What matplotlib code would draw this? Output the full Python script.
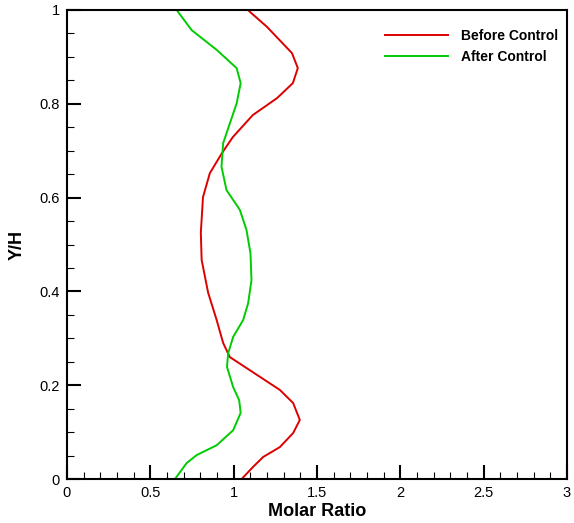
import numpy as np
import matplotlib.pyplot as plt
from matplotlib.ticker import MultipleLocator

plt.rcParams['font.family'] = ['Liberation Sans', 'DejaVu Sans']

# Before Control (red)
before_x = [1.048, 1.117, 1.177, 1.277, 1.357, 1.397, 1.357, 1.277, 1.097, 0.977, 0.937,
            0.898, 0.847, 0.808, 0.803, 0.816, 0.857, 0.93, 0.995, 1.115, 1.26, 1.355,
            1.385, 1.35, 1.2, 1.085]
before_y = [0.0, 0.026, 0.047, 0.068, 0.098, 0.126, 0.162, 0.19, 0.232, 0.26, 0.29,
            0.339, 0.397, 0.467, 0.525, 0.601, 0.652, 0.695, 0.729, 0.776, 0.812, 0.844,
            0.876, 0.908, 0.964, 1.0]

# After Control (green)
after_x = [0.648, 0.718, 0.778, 0.898, 0.997, 1.042, 1.033, 0.997, 0.96, 0.967, 0.997,
           1.057, 1.087, 1.107, 1.101, 1.077, 1.037, 0.957, 0.927, 0.937, 0.977, 1.018,
           1.042, 1.018, 0.898, 0.748, 0.658]
after_y = [0.0, 0.034, 0.051, 0.072, 0.104, 0.141, 0.168, 0.196, 0.239, 0.268, 0.303,
           0.339, 0.375, 0.424, 0.481, 0.531, 0.574, 0.616, 0.666, 0.716, 0.758, 0.801,
           0.844, 0.876, 0.915, 0.957, 1.0]

fig = plt.figure(figsize=(5.74, 5.23), dpi=100)
ax = fig.add_axes([0.1167, 0.0841, 0.8711, 0.8968])

ax.plot(before_x, before_y, color='#dd0000', lw=1.4, label='Before Control')
ax.plot(after_x, after_y, color='#00cc00', lw=1.4, label='After Control')

ax.set_xlim(0, 3)
ax.set_ylim(0, 1)
ax.xaxis.set_major_locator(MultipleLocator(0.5))
ax.xaxis.set_minor_locator(MultipleLocator(0.1))
ax.yaxis.set_major_locator(MultipleLocator(0.2))
ax.yaxis.set_minor_locator(MultipleLocator(0.05))
ax.xaxis.set_major_formatter(plt.FuncFormatter(lambda v, p: f'{v:g}'))
ax.yaxis.set_major_formatter(plt.FuncFormatter(lambda v, p: f'{v:g}'))
ax.tick_params(which='major', direction='in', length=10, width=1.5, labelsize=10.5, pad=5)
ax.tick_params(which='minor', direction='in', length=5, width=0.8)
for s in ax.spines.values():
    s.set_linewidth(1.5)

ax.set_xlabel('Molar Ratio', fontsize=13, fontweight='bold', labelpad=2)
ax.set_ylabel('Y/H', fontsize=13, fontweight='bold', labelpad=10)

leg = ax.legend(loc='upper right', bbox_to_anchor=(1.01, 0.99), frameon=False,
                handlelength=4.6, handletextpad=0.9,
                borderaxespad=0.6, labelspacing=0.55,
                prop={'weight': 'bold', 'size': 10})

fig.savefig('out.png', dpi=100)
